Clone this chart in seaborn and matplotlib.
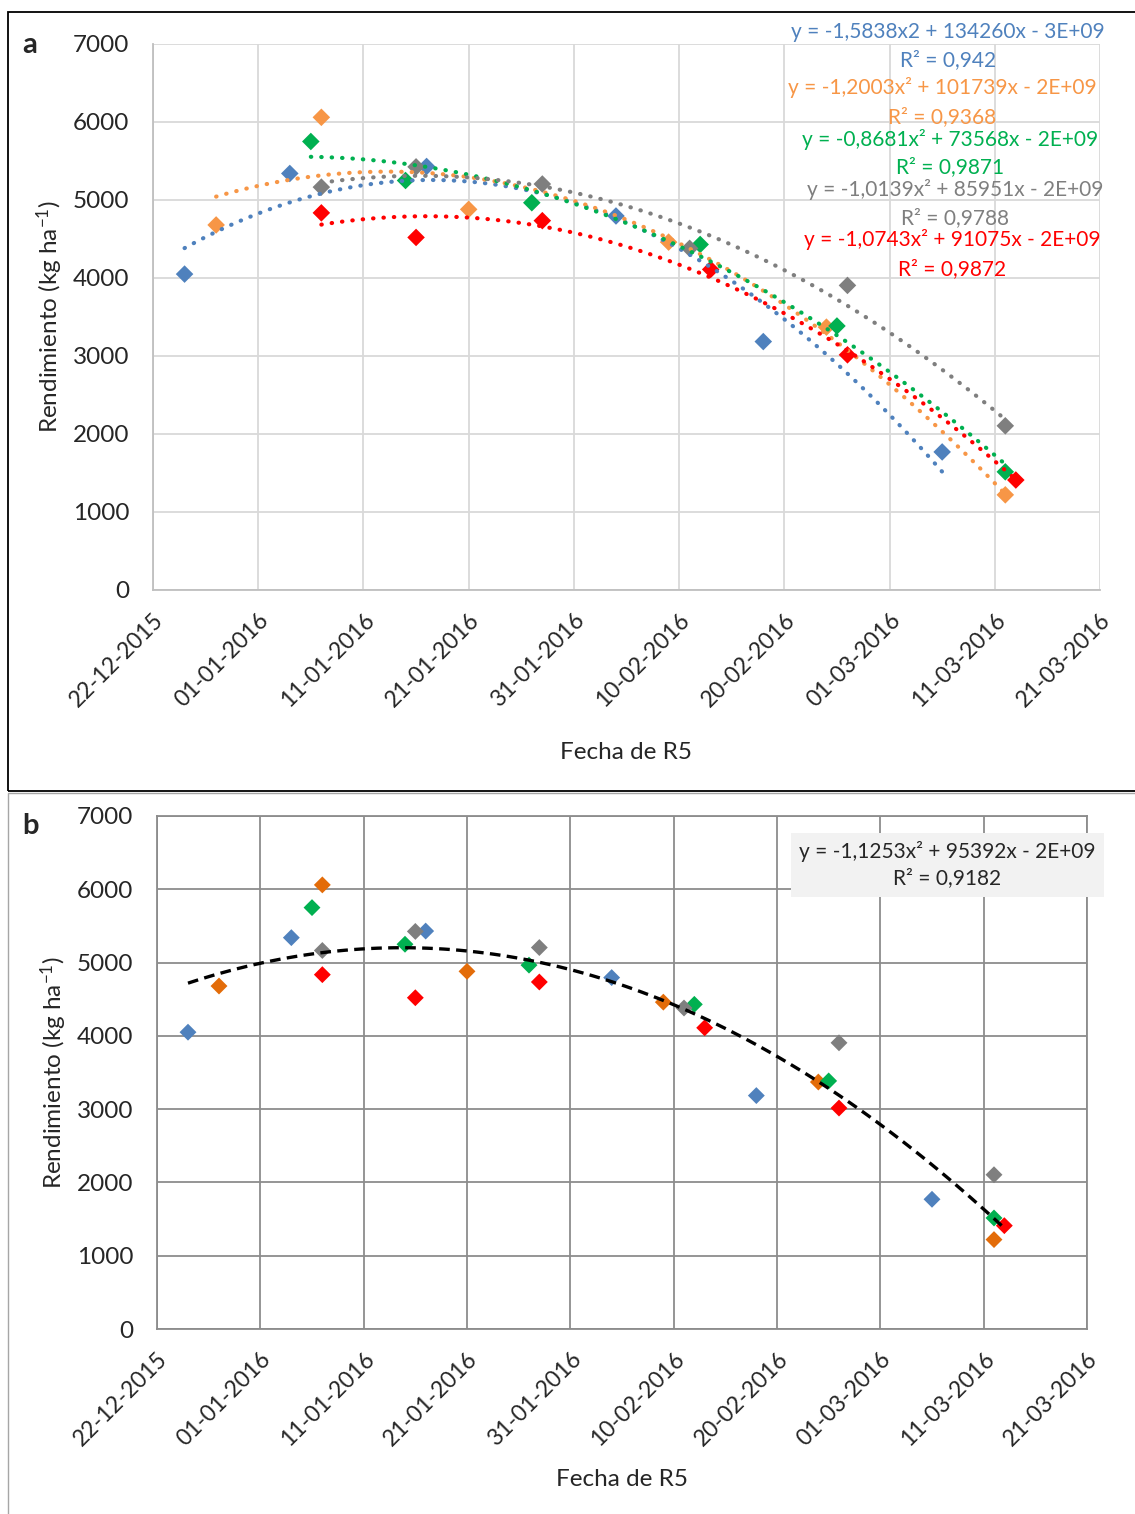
import numpy as np
import pandas as pd
import matplotlib
matplotlib.use("Agg")
import matplotlib.pyplot as plt
import matplotlib.dates as mdates
from matplotlib.patches import Rectangle
import seaborn as sns

# ---------------------------------------------------------------------------
# Data: R5 date and yield (kg/ha) for five series
# ---------------------------------------------------------------------------
series_names = ["azul", "naranja", "verde", "gris", "rojo"]

fechas_azul = ["2015-12-25", "2016-01-04", "2016-01-17", "2016-02-04", "2016-02-18", "2016-03-06"]
rend_azul = [4050, 5340, 5430, 4795, 3185, 1770]

fechas_naranja = ["2015-12-28", "2016-01-07", "2016-01-21", "2016-02-09", "2016-02-24", "2016-03-12"]
rend_naranja = [4680, 6060, 4880, 4460, 3370, 1220]

fechas_verde = ["2016-01-06", "2016-01-15", "2016-01-27", "2016-02-12", "2016-02-25", "2016-03-12"]
rend_verde = [5750, 5250, 4965, 4430, 3385, 1515]

fechas_gris = ["2016-01-07", "2016-01-16", "2016-01-28", "2016-02-11", "2016-02-26", "2016-03-12"]
rend_gris = [5165, 5425, 5205, 4380, 3905, 2105]

fechas_rojo = ["2016-01-07", "2016-01-16", "2016-01-28", "2016-02-13", "2016-02-26", "2016-03-13"]
rend_rojo = [4835, 4520, 4735, 4110, 3015, 1410]

eq_a = [
    ("y = -1,5838x2 + 134260x - 3E+09", "R\u00b2 = 0,942"),
    ("y = -1,2003x\u00b2 + 101739x - 2E+09", "R\u00b2 = 0,9368"),
    ("y = -0,8681x\u00b2 + 73568x - 2E+09", "R\u00b2 = 0,9871"),
    ("y = -1,0139x\u00b2 + 85951x - 2E+09", "R\u00b2 = 0,9788"),
    ("y = -1,0743x\u00b2 + 91075x - 2E+09", "R\u00b2 = 0,9872"),
]
eq_b = "y = -1,1253x\u00b2 + 95392x - 2E+09\nR\u00b2 = 0,9182"

colors_a = ["#4F81BD", "#F79646", "#00B050", "#7F7F7F", "#FF0000"]
colors_b = ["#4F81BD", "#E36C09", "#00B050", "#7F7F7F", "#FF0000"]

# ---------------------------------------------------------------------------
# Long table
# ---------------------------------------------------------------------------
frames = []
for name, f, r in zip(series_names,
                      [fechas_azul, fechas_naranja, fechas_verde, fechas_gris, fechas_rojo],
                      [rend_azul, rend_naranja, rend_verde, rend_gris, rend_rojo]):
    frames.append(pd.DataFrame({"fecha": pd.to_datetime(f), "rend": r, "serie": name}))
df = pd.concat(frames, ignore_index=True)
df["x"] = mdates.date2num(df["fecha"])

sns.set_style("white")
plt.rcParams["font.family"] = ["Lato", "DejaVu Sans"]
plt.rcParams["mathtext.fontset"] = "custom"
plt.rcParams["mathtext.rm"] = "Lato"
plt.rcParams["mathtext.it"] = "Lato:italic"

fig = plt.figure(figsize=(11.35, 15.14), dpi=100)
W, H = 1135, 1514


def fx(px):
    return px / W


def fy(py):
    return 1 - py / H


# panel frames
fig.add_artist(Rectangle((fx(8), fy(791)), fx(1135) - fx(8) + 0.01, fy(12) - fy(791),
                         transform=fig.transFigure, fill=False, ec="black", lw=1.3))
fig.add_artist(Rectangle((fx(8), fy(1520)), 1.0, fy(793) - fy(1520),
                         transform=fig.transFigure, fill=False, ec="#A6A6A6", lw=1.0))

ax_a = fig.add_axes([fx(153), fy(590), fx(1100) - fx(153), fy(44) - fy(590)])
ax_b = fig.add_axes([fx(157), fy(1329), fx(1087) - fx(157), fy(816) - fy(1329)])

xmin = mdates.date2num(pd.Timestamp("2015-12-22"))
xmax = mdates.date2num(pd.Timestamp("2016-03-21"))
ticks = mdates.date2num(pd.date_range("2015-12-22", "2016-03-21", freq="10D"))


def style_axes(ax, gridcol, spinecol, xlabelpad):
    ax.set_xlim(xmin, xmax)
    ax.set_ylim(0, 7000)
    ax.set_yticks(range(0, 7001, 1000))
    ax.set_xticks(ticks)
    ax.xaxis.set_major_formatter(mdates.DateFormatter("%d-%m-%Y"))
    ax.grid(True, color=gridcol, lw=1.3)
    ax.set_axisbelow(True)
    for s in ax.spines.values():
        s.set_color(spinecol)
        s.set_linewidth(1.3)
    ax.tick_params(axis="y", labelsize=17.5, length=0, pad=17)
    ax.tick_params(axis="x", labelsize=16.5, length=0, pad=14)
    for lab in ax.get_xticklabels():
        lab.set_rotation(45)
        lab.set_ha("right")
        lab.set_va("top")
        lab.set_rotation_mode("anchor")
    ax.set_xlabel("Fecha de R5", fontsize=17.5, labelpad=xlabelpad)
    ax.set_ylabel("Rendimiento (kg ha$^{-1}$)", fontsize=17.5, labelpad=6)


# ---------------------------------------------------------------------------
# Panel a: each series with its own 2nd order trendline
# ---------------------------------------------------------------------------
sns.scatterplot(data=df, x="x", y="rend", hue="serie", hue_order=series_names,
                palette=colors_a, marker="D", s=80, linewidth=0, legend=False,
                ax=ax_a, zorder=3)
for name, c in zip(series_names, colors_a):
    sub = df[df["serie"] == name]
    sns.regplot(data=sub, x="x", y="rend", order=2, ci=None, scatter=False,
                ax=ax_a, color=c,
                line_kws=dict(lw=3.0, linestyle=(0, (0.1, 2.4)),
                              dash_capstyle="round", zorder=4))
style_axes(ax_a, "#D9D9D9", "#BFBFBF", 22)
ax_a.spines["top"].set_visible(False)
ax_a.spines["right"].set_visible(False)

eq_pos = [(948, 32, 60), (942, 88, 117), (950, 139, 167), (955, 190, 218), (952, 240, 269)]
for (eq, r2), c, (cx, y1, y2) in zip(eq_a, colors_a, eq_pos):
    fig.text(fx(cx), fy(y1), eq, color=c, fontsize=15, ha="center", va="center", zorder=10)
    fig.text(fx(cx), fy(y2), r2, color=c, fontsize=15, ha="center", va="center", zorder=10)

fig.text(fx(30), fy(45), "a", fontsize=21, fontweight="bold", ha="center", va="center")

# ---------------------------------------------------------------------------
# Panel b: all points, one pooled 2nd order trendline
# ---------------------------------------------------------------------------
sns.scatterplot(data=df, x="x", y="rend", hue="serie", hue_order=series_names,
                palette=colors_b, marker="D", s=74, linewidth=0, legend=False,
                ax=ax_b, zorder=3)
sns.regplot(data=df, x="x", y="rend", order=2, ci=None, scatter=False, ax=ax_b,
            color="black", line_kws=dict(lw=2.4, linestyle=(0, (3.2, 1.9)), zorder=4))
style_axes(ax_b, "#8C8C8C", "#8C8C8C", 14)
ax_b.text(0.850, 0.905, eq_b, transform=ax_b.transAxes, fontsize=15,
          ha="center", va="center", linespacing=1.4, zorder=10,
          bbox=dict(boxstyle="square,pad=0.4", fc="#F2F2F2", ec="none"))

fig.text(fx(30), fy(826), "b", fontsize=21, fontweight="bold", ha="center", va="center")

fig.savefig("out.png", dpi=100)
